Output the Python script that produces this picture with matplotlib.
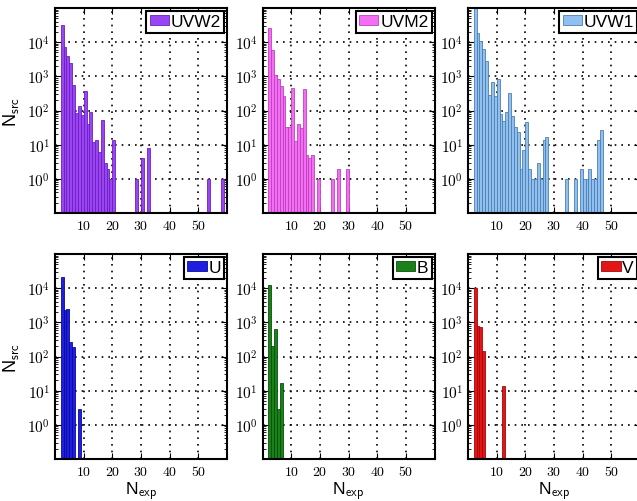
import numpy as np
import matplotlib
matplotlib.use('Agg')
import matplotlib.pyplot as plt

plt.rcParams['font.family'] = ['Liberation Sans', 'DejaVu Sans']
plt.rcParams['mathtext.fontset'] = 'cm'

# N_exp bins (left edges) and N_src counts
uvw2_bins = [2, 3, 4, 5, 6, 7, 8, 9, 10, 11, 12, 13, 14, 15, 16, 17, 18, 19, 20, 28, 30, 32, 53, 58]
uvw2_counts = [32000, 7100, 4000, 2400, 560, 82, 137, 73, 380, 40, 88, 12, 14, 6, 53, 3, 2, 1, 14, 1, 4, 8, 1, 1]

uvm2_bins = [2, 3, 4, 5, 6, 7, 8, 9, 10, 11, 12, 13, 14, 15, 16, 17, 19, 24, 26, 29]
uvm2_counts = [26000, 5900, 1100, 830, 510, 270, 32, 33, 460, 13, 40, 30, 430, 5, 4, 5, 1, 1, 2, 2]

uvw1_bins = [2, 3, 4, 5, 6, 7, 8, 9, 10, 11, 12, 13, 14, 15, 16, 17, 18, 19, 20, 21, 22, 23, 24, 25, 26, 27,
             34, 37, 39, 40, 41, 42, 43, 44, 45, 46]
uvw1_counts = [130000, 19000, 10500, 6300, 2900, 290, 660, 260, 830, 81, 48, 88, 316, 69, 32, 24, 2, 7, 47, 2, 1, 1, 3, 1, 14, 17,
               1, 1, 2, 1, 1, 2, 1, 1, 14, 26]

u_bins = [2, 3, 4, 5, 6, 8]
u_counts = [20600, 2300, 2500, 270, 190, 3]

b_bins = [2, 3, 4, 5, 6]
b_counts = [12500, 205, 620, 3, 17]

v_bins = [2, 3, 4, 5, 12]
v_counts = [10000, 780, 730, 145, 14]

filters = ['UVW2', 'UVM2', 'UVW1', 'U', 'B', 'V']
all_bins = [uvw2_bins, uvm2_bins, uvw1_bins, u_bins, b_bins, v_bins]
all_counts = [uvw2_counts, uvm2_counts, uvw1_counts, u_counts, b_counts, v_counts]
face = ['#9b45f2', '#f36ef3', '#8fc0ef', '#1f1fe0', '#1a801a', '#e41515']
edge = ['#6a1fc0', '#c040c0', '#4f7fb0', '#0a0aa0', '#0a500a', '#a00a0a']

fig = plt.figure(figsize=(6.37, 5.02), dpi=100)
W, H = 637.0, 502.0
lefts = [55, 262.5, 468]
tops = [9, 255]
aw, ah = 172, 205

for i in range(6):
    r, c = divmod(i, 3)
    ax = fig.add_axes([lefts[c] / W, 1 - (tops[r] + ah) / H, aw / W, ah / H])
    ax.bar(all_bins[i], all_counts[i], width=1, align='edge', color=face[i],
           edgecolor=edge[i], linewidth=0.6, label=filters[i], zorder=2)
    ax.set_yscale('log')
    ax.set_xlim(0, 60)
    ax.set_ylim(0.1, 1e5)
    ax.set_xticks([10, 20, 30, 40, 50])
    ax.set_xticklabels([r'$%d$' % v for v in [10, 20, 30, 40, 50]], fontsize=10)
    ax.set_yticks([1, 10, 100, 1e3, 1e4])
    ax.set_yticklabels([r'$10^{%d}$' % k for k in range(5)], fontsize=11)
    ax.tick_params(which='both', direction='in', top=True, right=True)
    ax.tick_params(which='major', length=4, width=0.8)
    ax.tick_params(which='minor', length=2, width=0.6)
    ax.grid(True, which='major', color='k', linestyle=(0, (1, 3)), linewidth=1.2, zorder=1)
    ax.set_axisbelow(True)
    for s in ax.spines.values():
        s.set_linewidth(1.5)
    leg = ax.legend(loc='upper right', fontsize=12.5, borderaxespad=0.15, handlelength=1.1,
                    handleheight=0.45, handletextpad=0.1, borderpad=0.2, fancybox=False, framealpha=1)
    leg.get_frame().set_edgecolor('k')
    leg.get_frame().set_linewidth(1.5)
    if c == 0:
        ax.set_ylabel(r'N$_{\mathsf{src}}$', fontsize=13)
    if r == 1:
        ax.set_xlabel(r'N$_{\mathsf{exp}}$', fontsize=12.5, labelpad=1)

fig.savefig('out.png', dpi=100)
